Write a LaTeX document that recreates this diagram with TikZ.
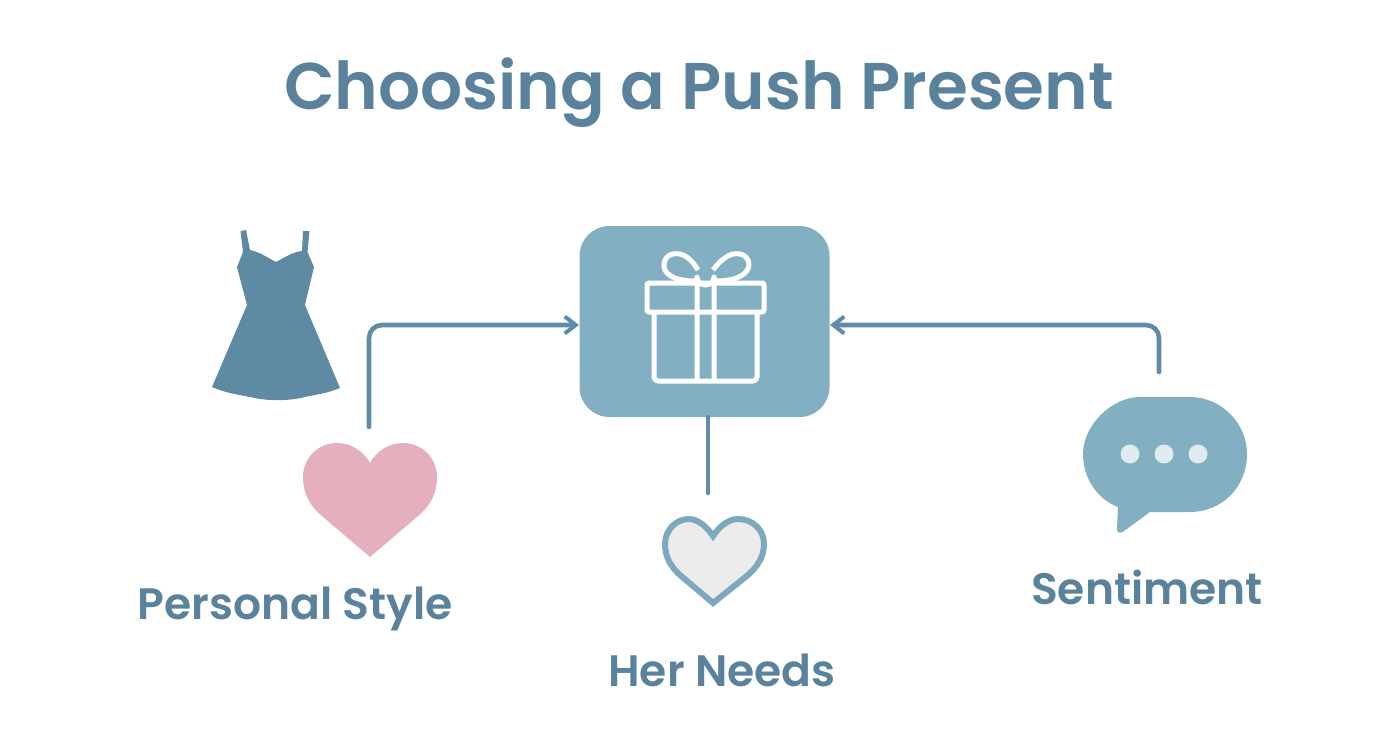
\documentclass[tikz,border=0pt]{standalone}
\usepackage{fontspec}
\setmainfont{Poppins}[Ligatures=NoCommon,BoldFont={Poppins SemiBold}]
\usetikzlibrary{arrows.meta}
\definecolor{ink}{HTML}{5A829C}
\definecolor{dressc}{HTML}{5F8AA3}
\definecolor{boxc}{HTML}{82AFC2}
\definecolor{pinkc}{HTML}{E5AFBB}
\definecolor{linec}{HTML}{5F8CA6}
\definecolor{edgec}{HTML}{7BA9BD}
\definecolor{greyc}{HTML}{ECECEC}
\definecolor{dotc}{HTML}{E0EBEF}
\tikzset{
  x=1pt,y=-1pt,
  label/.style={text=ink,font=\bfseries\fontsize{44}{44}\selectfont,anchor=base,inner sep=0pt},
  title/.style={text=ink,font=\bfseries\fontsize{66}{66}\selectfont,anchor=base,inner sep=0pt},
  link/.style={draw=linec,line width=4.6pt,line cap=round,rounded corners=13pt},
  tip/.style={-{Straight Barb[length=11pt,width=17pt,line width=4pt]}},
  giftline/.style={draw=white,line width=5pt,line join=round}
}
\begin{document}
\begin{tikzpicture}
\useasboundingbox (0,0) rectangle (1392,752);
\node[title] (ttl) at (699,110) {Choosing a Push Present};
% dress
\fill[dressc] (240.5,231) -- (246,230) -- (250,250) .. controls (260,252) and (268,258) .. (276,262)
  .. controls (284,258) and (292,252) .. (302,251) -- (303,231) -- (309.5,231) -- (307.5,252)
  -- (314,267) -- (305,305) -- (340,388) .. controls (325,394) and (318,394) .. (305,397)
  .. controls (290,401) and (268,401) .. (255,398) .. controls (240,395) and (225,393) .. (212,387)
  -- (247,305) -- (237,267) -- (243,252) -- cycle;
% box
\node[fill=boxc,rounded corners=30pt,minimum width=250pt,minimum height=191pt,inner sep=0pt] (box) at (704.5,321.5) {};
\coordinate (boxL) at (579,325);
\coordinate (boxR) at (830,325);
% gift
\draw[giftline,rounded corners=2pt] (647,283) rectangle (764,312);
\draw[giftline,rounded corners=4pt] (654,312) -- (654,381) -- (757,381) -- (757,312);
\draw[giftline] (697,381) -- (697,277) arc[start angle=180,end angle=0,x radius=8.5,y radius=8] -- (714,381);
\draw[giftline] (695,281) .. controls (672,281) and (663,273) .. (664,264)
  .. controls (665,252) and (680,251) .. (688,258) .. controls (692,261) and (695,265) .. (698,270);
\draw[giftline] (716,281) .. controls (739,281) and (749,273) .. (749,264)
  .. controls (748,252) and (733,251) .. (725,258) .. controls (720,261) and (717,265) .. (713,270);
% connector ends
\coordinate (styleEnd) at (369,427);
\coordinate (sentEnd) at (1159,372);
\coordinate (needEnd) at (708,493);
\draw[link,tip] (styleEnd) |- (boxL);
\draw[link,tip] (sentEnd) |- (boxR);
\draw[link] (708,417) -- (needEnd);
% pink heart
\fill[pinkc] (370,463) .. controls (376,452) and (388,443) .. (403,443)
  .. controls (423,443) and (437,459) .. (437,477)
  .. controls (437,494) and (430,506) .. (418,516) -- (370,557) -- (322,516)
  .. controls (310,506) and (303,494) .. (303,477)
  .. controls (303,459) and (317,443) .. (337,443)
  .. controls (352,443) and (364,452) .. (370,463) -- cycle;
% outline heart
\draw[edgec,fill=greyc,line width=6pt,line join=miter] (713,536) .. controls (719,527) and (728,519) .. (738,519)
  .. controls (753,519) and (764,530) .. (764,544)
  .. controls (764,557) and (757,567) .. (748,575) -- (713,603) -- (680,575)
  .. controls (671,567) and (665,557) .. (665,544)
  .. controls (665,530) and (676,519) .. (689,519)
  .. controls (698,519) and (707,527) .. (713,536) -- cycle;
% bubble
\fill[boxc] (1140,397) -- (1190,397) .. controls (1222,397) and (1247,424) .. (1247,454)
  .. controls (1247,487) and (1222,512) .. (1190,512) -- (1150,512) -- (1124,531)
  .. controls (1120,534) and (1117,533) .. (1117,529) -- (1118,507)
  .. controls (1097,499) and (1083,478) .. (1083,454)
  .. controls (1083,425) and (1112,397) .. (1140,397) -- cycle;
\fill[dotc] (1130,454) circle[radius=9.5] (1164,454) circle[radius=9.5] (1198,454) circle[radius=9.5];
% labels
\node[label] (a) at (295,619) {Personal Style};
\node[label] (b) at (722,686) {Her Needs};
\node[label] (c) at (1147,604) {Sentiment};
\end{tikzpicture}
\end{document}
